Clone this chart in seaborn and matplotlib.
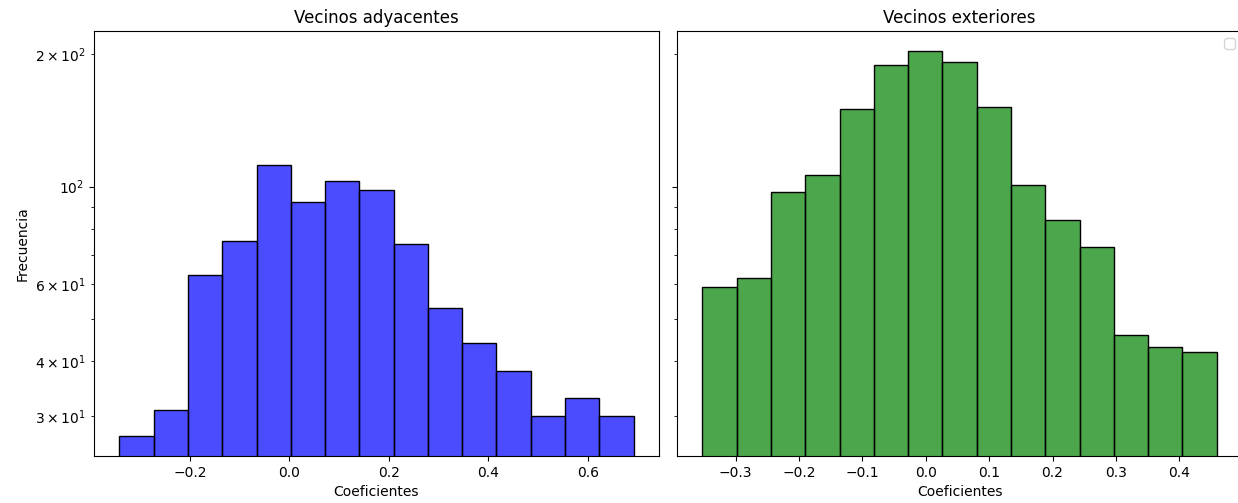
import numpy as np
import pandas as pd
import matplotlib
matplotlib.use("Agg")
import matplotlib.pyplot as plt
import seaborn as sns

# bin counts (15 bins each)
adj_counts = [27, 31, 63, 75, 112, 92, 103, 98, 74, 53, 44, 38, 30, 33, 30]
adj_range = (-0.342, 0.692)

ext_counts = [59, 62, 97, 106, 150, 189, 204, 192, 152, 101, 84, 73, 46, 43, 42]
ext_range = (-0.3525, 0.459)

titles = ["Vecinos adyacentes", "Vecinos exteriores"]


def to_frame(counts, rng):
    n = len(counts)
    edges = np.linspace(rng[0], rng[1], n + 1)
    centers = (edges[:-1] + edges[1:]) / 2
    return pd.DataFrame({"coef": centers, "n": counts})


fig, (ax1, ax2) = plt.subplots(1, 2, sharey=True, figsize=(12.38, 5.03), dpi=100)
fig.subplots_adjust(left=0.0757, right=1.0035, top=0.938, bottom=0.093, wspace=0.031)

sns.histplot(data=to_frame(adj_counts, adj_range), x="coef", weights="n",
             bins=len(adj_counts), binrange=adj_range, color="blue", alpha=0.7,
             edgecolor="black", linewidth=1, ax=ax1)

sns.histplot(data=to_frame(ext_counts, ext_range), x="coef", weights="n",
             bins=len(ext_counts), binrange=ext_range, color="green", alpha=0.7,
             edgecolor="black", linewidth=1, ax=ax2)

for ax, t in zip([ax1, ax2], titles):
    ax.set_yscale("log")
    ax.set_title(t)
    ax.set_xlabel("Coeficientes")
    ax.set_ylabel("")

ax1.set_ylabel("Frecuencia")
ax1.set_ylim(24.3, 226)
ax2.legend(handles=[], loc="upper right")

fig.savefig("out.png", dpi=100)
